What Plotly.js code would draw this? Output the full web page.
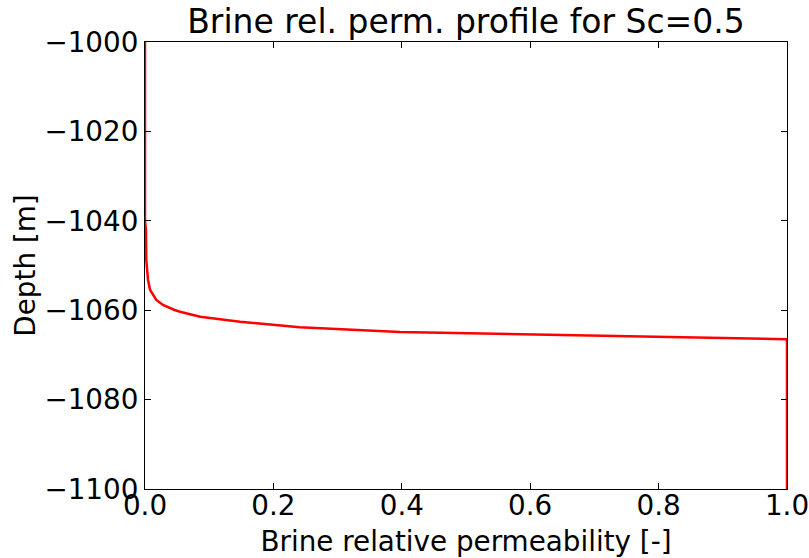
<!DOCTYPE html>
<html>
<head>
<meta charset="utf-8">
<script src="https://cdn.plot.ly/plotly-3.0.1.min.js"></script>
<style>html,body{margin:0;padding:0;background:#fff;}#chart{width:809px;height:558px;}</style>
</head>
<body>
<div id="chart"></div>
<script>
// Brine relative permeability (x) against depth (y)
const krw   = [0.0,   0.0,   0.0015,   0.002,    0.0047,   0.008,    0.0176,   0.028,    0.046,    0.0545,   0.075,    0.086,    0.148,    0.241,    0.397,    0.553,    0.709,    0.85,    1.0,     1.0];
const depth = [-1000, -1040, -1042.06, -1048.77, -1053.24, -1055.48, -1057.72, -1058.84, -1059.96, -1060.34, -1061.07, -1061.45, -1062.57, -1063.83, -1064.88, -1065.32, -1065.77, -1066.2, -1066.5, -1100];
const xTicks = [0.0, 0.2, 0.4, 0.6, 0.8, 1.0];
const yTicks = [-1100, -1080, -1060, -1040, -1020, -1000];

const font = "DejaVu Sans, sans-serif";
const trace = {
  x: krw, y: depth, type: 'scatter', mode: 'lines',
  line: {color: '#ff0000', width: 2.5, shape: 'linear'},
  cliponaxis: false, hoverinfo: 'skip'
};
const axisCommon = {
  showline: true, linecolor: '#000', linewidth: 1, mirror: 'ticks',
  ticks: 'inside', ticklen: 6, tickwidth: 1, tickcolor: '#000',
  showgrid: false, zeroline: false, ticklabeloverflow: 'allow',
  tickfont: {family: font, size: 27.8, color: '#000'}
};
const layout = {
  width: 809, height: 558,
  margin: {l: 145, r: 22, t: 42, b: 69},
  paper_bgcolor: '#fff', plot_bgcolor: '#fff',
  showlegend: false,
  title: {text: 'Brine rel. perm. profile for Sc=0.5', font: {family: font, size: 33, color: '#000'}, x: 0.576, xanchor: 'center', y: 0.962, yanchor: 'middle'},
  xaxis: Object.assign({}, axisCommon, {
    range: [0, 1], tickvals: xTicks, ticktext: xTicks.map(v => v.toFixed(1)),
    ticklabelstandoff: -8,
    title: {text: 'Brine relative permeability [-]', font: {family: font, size: 27.8, color: '#000'}, standoff: 10}
  }),
  yaxis: Object.assign({}, axisCommon, {
    range: [-1100, -1000], tickvals: yTicks, ticktext: yTicks.map(v => '\u2212' + Math.abs(v)),
    title: {text: 'Depth [m]', font: {family: font, size: 27.8, color: '#000'}, standoff: 0}
  })
};
Plotly.newPlot('chart', [trace], layout, {displayModeBar: false, staticPlot: true});
</script>
</body>
</html>
